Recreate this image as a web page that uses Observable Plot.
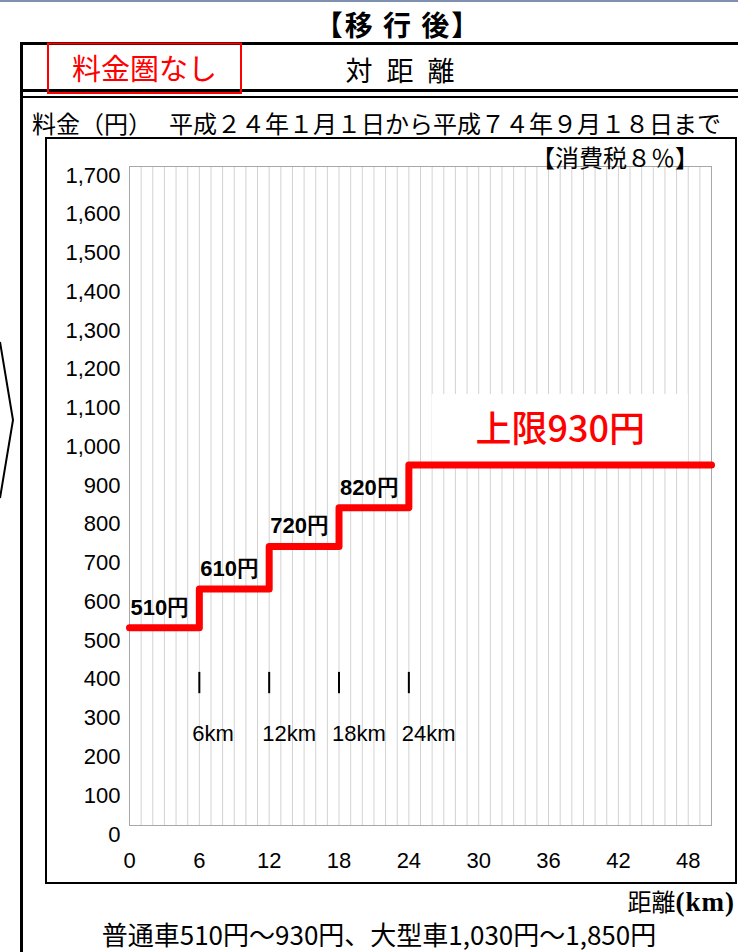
<!DOCTYPE html>
<html lang="ja">
<head>
<meta charset="utf-8">
<script src="https://cdn.jsdelivr.net/npm/d3@7"></script>
<script src="https://cdn.jsdelivr.net/npm/@observablehq/plot@0.6"></script>
<style>
  html, body { margin: 0; padding: 0; background: #fff; }
  body { position: relative; width: 738px; height: 952px; overflow: hidden;
         font-family: "Noto Sans CJK JP", "Noto Sans", sans-serif; color: #000; }
  .abs { position: absolute; white-space: nowrap; line-height: 1; }
  #decor { position: absolute; left: 0; top: 0; }
  #chartbox { position: absolute; left: 45px; top: 137px; width: 692px; height: 747px;
              box-sizing: border-box; border: 2px solid #000; }
  #chart { position: absolute; left: 46px; top: 138px; }
</style>
</head>
<body>
<svg id="decor" width="738" height="952">
  <line x1="0" x2="738" y1="1" y2="1" stroke="#7d91ae" stroke-width="2"/>
  <line x1="20" x2="738" y1="43.5" y2="43.5" stroke="#000" stroke-width="3"/>
  <line x1="21.5" x2="21.5" y1="42" y2="952" stroke="#000" stroke-width="3"/>
  <line x1="20" x2="738" y1="90.5" y2="90.5" stroke="#000" stroke-width="3"/>
  <line x1="20" x2="738" y1="97" y2="97" stroke="#000" stroke-width="2"/>
  <rect x="48" y="43.5" width="193" height="49.5" fill="none" stroke="#ff0000" stroke-width="2"/>
  <polyline points="0,342 13,420 0,498" fill="none" stroke="#000" stroke-width="2"/>
</svg>

<div class="abs" style="left:0;width:796px;top:10px;text-align:center;font-size:28px;font-weight:bold;letter-spacing:2px;">【移 行 後】</div>
<div class="abs" style="left:48px;width:193px;top:53px;text-align:center;font-size:29px;color:#ff0000;">料金圏なし</div>
<div class="abs" style="left:300px;width:200px;top:56px;text-align:center;font-size:27px;word-spacing:8px;">対 距 離</div>
<div class="abs" style="left:32px;top:111px;font-size:24px;">料金（円）</div>
<div class="abs" style="left:169px;top:111px;font-size:24px;">平成２４年１月１日から平成７４年９月１８日まで</div>

<div id="chartbox"></div>
<div id="chart"></div>

<div class="abs" style="left:531px;top:145px;font-size:24px;">【消費税８％】</div>
<div class="abs" style="right:3px;top:889px;font-size:24px;">距離<span style="font-family:'Liberation Serif',serif;font-weight:bold;font-size:27px;letter-spacing:1px;">(km)</span></div>
<div class="abs" style="left:0;width:758px;top:921px;text-align:center;font-size:26px;">普通車510円～930円、大型車1,030円～1,850円</div>

<script>
// Fare steps: distance (km) where each fare starts, and the fare (yen)
const distance = [0, 6, 12, 18, 24, 50];
const fare = [510, 610, 720, 820, 930, 930];

// Distance markers drawn under the steps
const markerKm = [6, 12, 18, 24];
const markerLabels = ["6km", "12km", "18km", "24km"];

// Axis ticks
const xTicks = [0, 6, 12, 18, 24, 30, 36, 42, 48];
const yTicks = [0, 100, 200, 300, 400, 500, 600, 700, 800, 900, 1000, 1100, 1200, 1300, 1400, 1500, 1600, 1700];

const steps = distance.map((d, i) => ({km: d, yen: fare[i]}));
const stepLabels = steps.slice(0, 4);
const cap = fare[fare.length - 1];
const capStart = distance[distance.length - 2];
const xMax = distance[distance.length - 1];
const capLabel = [{km: (capStart + xMax) / 2, yen: cap, text: `上限${cap}円`}];
// white panel behind the cap label, covering the gridlines
const capPanel = [{x1: capStart + 2, x2: xMax - 2, y1: cap, y2: cap + 182}];

const latin = "'Liberation Sans', Arial, sans-serif";

const chart = Plot.plot({
  width: 690,
  height: 745,
  marginLeft: 83,
  marginRight: 25,
  marginTop: 28,
  marginBottom: 58,
  style: {fontFamily: latin, background: "transparent", overflow: "visible", color: "#000"},
  x: {domain: [0, xMax], axis: null},
  y: {domain: [0, 1700], axis: null},
  marks: [
    Plot.ruleX(d3.range(0, xMax + 1), {stroke: "#d2d2d2", strokeWidth: 1}),
    Plot.frame({stroke: "#a8a8a8"}),
    Plot.axisY(yTicks, {tickSize: 0, tickPadding: 9, fontSize: 22, dy: 9, label: null,
                        tickFormat: d3.format(",")}),
    Plot.axisX(xTicks, {tickSize: 0, tickPadding: 27, fontSize: 22, label: null}),
    Plot.rect(capPanel, {x1: "x1", x2: "x2", y1: "y1", y2: "y2", fill: "#fff"}),
    Plot.text(capLabel, {x: "km", y: "yen", text: "text", dy: -35, fontSize: 36, fill: "#ff0000",
                         fontWeight: 500, fontFamily: "'Noto Sans CJK JP', sans-serif"}),
    Plot.ruleX(markerKm, {y1: 340, y2: 395, stroke: "#000", strokeWidth: 2}),
    Plot.text(markerKm, {x: d => d, y: 237, text: (d, i) => markerLabels[i], textAnchor: "start",
                         dx: -7, fontSize: 22}),
    Plot.line(steps, {x: "km", y: "yen", curve: "step-after", stroke: "#ff0000", strokeWidth: 7,
                      strokeLinejoin: "round"}),
    Plot.text(stepLabels, {x: "km", y: "yen", text: d => `${d.yen}円`, textAnchor: "start",
                           dx: 1, dy: -20, fontSize: 22, fontWeight: "bold"})
  ]
});
document.getElementById("chart").append(chart);
</script>
</body>
</html>
